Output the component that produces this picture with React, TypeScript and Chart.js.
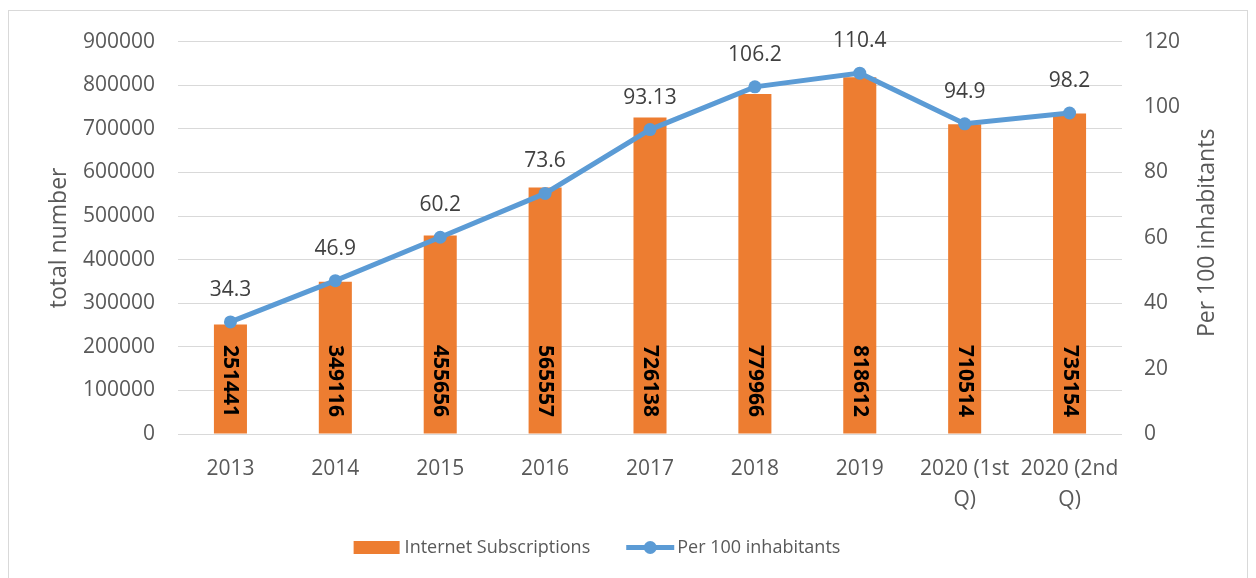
import React, { useEffect, useRef } from "react";
import { Chart, registerables } from "chart.js";

Chart.register(...registerables);

const categories: (string | string[])[] = [
  "2013", "2014", "2015", "2016", "2017", "2018", "2019",
  ["2020 (1st", "Q)"], ["2020 (2nd", "Q)"],
];
const subscriptions = [251441, 349116, 455656, 565557, 726138, 779966, 818612, 710514, 735154];
const per100 = [34.3, 46.9, 60.2, 73.6, 93.13, 106.2, 110.4, 94.9, 98.2];
const leftTicksMax = 900000;
const leftTicksStep = 100000;
const rightTicksMax = 120;
const rightTicksStep = 20;

const seriesNames = ["Internet Subscriptions", "Per 100 inhabitants"];
const axisTitles = ["total number", "Per 100 inhabitants"];

const FONT = "'Open Sans', sans-serif";
const ORANGE = "#ED7D31";
const BLUE = "#5B9BD5";
const TEXT = "#595959";
const LABEL = "#404040";
const GRID = "#D9D9D9";

const CANVAS_W = 1238;
const CANVAS_H = 575;

const labelPlugin = {
  id: "customLabels",
  afterDatasetsDraw(chart: any) {
    const ctx: CanvasRenderingContext2D = chart.ctx;
    const yScale = chart.scales.y;
    const base = yScale.getPixelForValue(0);
    ctx.save();
    // bar value labels, rotated clockwise
    const barMeta = chart.getDatasetMeta(0);
    ctx.font = `bold 21px ${FONT}`;
    ctx.fillStyle = "#000000";
    ctx.textAlign = "right";
    ctx.textBaseline = "middle";
    barMeta.data.forEach((el: any, i: number) => {
      ctx.save();
      ctx.translate(el.x, base - 17);
      ctx.rotate(Math.PI / 2);
      ctx.fillText(String(subscriptions[i]), 0, 0);
      ctx.restore();
    });
    // line value labels
    const lineMeta = chart.getDatasetMeta(1);
    ctx.font = `21px ${FONT}`;
    ctx.fillStyle = LABEL;
    ctx.textAlign = "center";
    ctx.textBaseline = "middle";
    lineMeta.data.forEach((el: any, i: number) => {
      ctx.fillText(String(per100[i]), el.x, el.y - 32);
    });
    ctx.restore();
  },
  afterDraw(chart: any) {
    const ctx: CanvasRenderingContext2D = chart.ctx;
    const area = chart.chartArea;
    ctx.save();
    // right axis title (reads bottom to top)
    ctx.save();
    ctx.translate(1198, (area.top + area.bottom) / 2 - 5);
    ctx.rotate(-Math.PI / 2);
    ctx.font = `23px ${FONT}`;
    ctx.fillStyle = TEXT;
    ctx.textAlign = "center";
    ctx.textBaseline = "middle";
    ctx.fillText(axisTitles[1], 0, 0);
    ctx.restore();

    // legend
    ctx.font = `18px ${FONT}`;
    ctx.textBaseline = "middle";
    ctx.textAlign = "left";
    const w1 = ctx.measureText(seriesNames[0]).width;
    const w2 = ctx.measureText(seriesNames[1]).width;
    const total = 46 + 5 + w1 + 36 + 48 + 3 + w2;
    const cy = 544.5;
    let x = 588 - total / 2;
    ctx.fillStyle = ORANGE;
    ctx.fillRect(x, cy - 6.5, 46, 13);
    x += 46 + 5;
    ctx.fillStyle = TEXT;
    ctx.fillText(seriesNames[0], x, cy);
    x += w1 + 36;
    ctx.strokeStyle = BLUE;
    ctx.lineWidth = 5;
    ctx.beginPath();
    ctx.moveTo(x, cy);
    ctx.lineTo(x + 48, cy);
    ctx.stroke();
    ctx.fillStyle = BLUE;
    ctx.beginPath();
    ctx.arc(x + 24, cy, 6.5, 0, Math.PI * 2);
    ctx.fill();
    x += 48 + 3;
    ctx.fillStyle = TEXT;
    ctx.fillText(seriesNames[1], x, cy);
    ctx.restore();
  },
};

export default function App() {
  const ref = useRef<HTMLCanvasElement | null>(null);

  useEffect(() => {
    if (!ref.current) return;
    Chart.defaults.font.family = FONT;
    const tickFont = { family: FONT, size: 21, lineHeight: 1.5 };

    const chart = new Chart(ref.current, {
      type: "bar",
      data: {
        labels: categories as any,
        datasets: [
          {
            type: "bar",
            label: seriesNames[0],
            data: subscriptions,
            backgroundColor: ORANGE,
            borderWidth: 0,
            yAxisID: "y",
            categoryPercentage: 1,
            barPercentage: 0.315,
            order: 2,
          } as any,
          {
            type: "line",
            label: seriesNames[1],
            data: per100,
            borderColor: BLUE,
            backgroundColor: BLUE,
            borderWidth: 5,
            pointRadius: 6.5,
            pointBackgroundColor: BLUE,
            pointBorderWidth: 0,
            tension: 0,
            yAxisID: "y1",
            order: 1,
          } as any,
        ],
      },
      options: {
        responsive: false,
        animation: false,
        layout: { padding: { top: 29, right: 62, bottom: 44, left: 0 } },
        plugins: {
          tooltip: { enabled: false },
          legend: { display: false },
        },
        scales: {
          x: {
            grid: { display: false },
            border: { display: false },
            ticks: {
              color: TEXT,
              font: tickFont,
              padding: 11,
              maxRotation: 0,
              autoSkip: false,
            },
            afterFit: (s: any) => {
              s.height = 100;
            },
          },
          y: {
            position: "left",
            min: 0,
            max: leftTicksMax,
            ticks: {
              stepSize: leftTicksStep,
              color: TEXT,
              font: tickFont,
              padding: 23,
              callback: (v: any) => String(v),
            },
            grid: { color: GRID, lineWidth: 1, drawTicks: false },
            border: { display: false },
            title: {
              display: true,
              text: axisTitles[0],
              color: TEXT,
              font: { family: FONT, size: 23 },
              padding: { top: 37, bottom: 0 },
            },
            afterFit: (s: any) => {
              s.width = 169;
            },
          },
          y1: {
            position: "right",
            min: 0,
            max: rightTicksMax,
            ticks: {
              stepSize: rightTicksStep,
              color: TEXT,
              font: tickFont,
              padding: 22,
              callback: (v: any) => String(v),
            },
            grid: { display: false, drawTicks: false },
            border: { display: false },
            afterFit: (s: any) => {
              s.width = 63;
            },
          },
        },
      } as any,
      plugins: [labelPlugin],
    });
    return () => chart.destroy();
  }, []);

  return (
    <div
      style={{
        position: "fixed",
        left: 8,
        top: 10,
        width: 1238,
        height: 568,
        borderTop: `1px solid ${GRID}`,
        borderLeft: `1px solid ${GRID}`,
        borderRight: `1px solid ${GRID}`,
        background: "#fff",
      }}
    >
      <canvas
        ref={ref}
        width={CANVAS_W}
        height={CANVAS_H}
        style={{ display: "block", marginTop: -8 }}
      />
    </div>
  );
}
